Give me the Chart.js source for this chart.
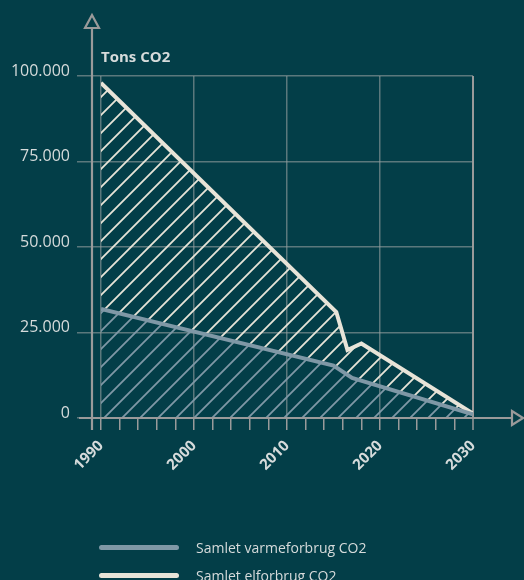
<!DOCTYPE html>
<html>
<head>
<meta charset="utf-8">
<script src="https://cdn.jsdelivr.net/npm/chart.js@4"></script>
<style>
  html, body { margin: 0; padding: 0; background: #033e48; }
  #wrap { position: relative; width: 524px; height: 580px; }
  #legend { position: absolute; left: 99px; top: 533px; font-family: "Open Sans", sans-serif; font-size: 14px; color: #d6dbdb; }
  #legend .item { display: flex; align-items: center; height: 28px; }
  #legend .swatch { width: 80px; height: 5px; border-radius: 3px; margin-right: 17px; }
</style>
</head>
<body>
<div id="wrap">
  <canvas id="co2"></canvas>
  <div id="legend"></div>
</div>
<script>
// data
var varmeYears = [1990, 2015, 2017, 2030];
var varmeValues = [31900, 15300, 11700, 1100];
var elYears = [1990, 2015.3, 2016.5, 2018, 2030];
var elValues = [98000, 31000, 19900, 21800, 1300];
var labels = ['Samlet varmeforbrug CO2', 'Samlet elforbrug CO2'];
var yTicks = [0, 25000, 50000, 75000, 100000];

var bg = '#033e48';
var cream = '#e8e4d8';
var blueGray = '#7f98a6';
var axisGray = '#9a9a9a';
var gridGray = 'rgba(150,160,160,0.6)';
var txt = '#d6dbdb';

function hatch(color){
  var s = 18;
  var c = document.createElement('canvas');
  c.width = s; c.height = s;
  var g = c.getContext('2d');
  g.strokeStyle = color;
  g.lineWidth = 1.8;
  g.beginPath();
  g.moveTo(-1, s + 1); g.lineTo(s + 1, -1);
  g.moveTo(-2, 2); g.lineTo(2, -2);
  g.moveTo(s - 2, s + 2); g.lineTo(s + 2, s - 2);
  g.stroke();
  return g.createPattern(c, 'repeat');
}

function pts(xs, ys){
  return xs.map(function(x, i){ return {x: x, y: ys[i]}; });
}

var axesPlugin = {
  id: 'axesPlugin',
  afterDraw: function(chart){
    var ctx = chart.ctx, a = chart.chartArea;
    var ax = a.left - 9;
    ctx.save();
    ctx.strokeStyle = axisGray;
    ctx.lineWidth = 2.2;
    // y axis with arrow
    ctx.beginPath();
    ctx.moveTo(ax, a.top - 48);
    ctx.lineTo(ax, a.bottom + 12);
    ctx.stroke();
    ctx.beginPath();
    ctx.moveTo(ax, a.top - 61);
    ctx.lineTo(ax - 7, a.top - 48);
    ctx.lineTo(ax + 7, a.top - 48);
    ctx.closePath();
    ctx.stroke();
    // x axis with arrow
    ctx.beginPath();
    ctx.moveTo(a.left - 22, a.bottom);
    ctx.lineTo(a.right + 39, a.bottom);
    ctx.stroke();
    ctx.beginPath();
    ctx.moveTo(a.right + 50, a.bottom);
    ctx.lineTo(a.right + 39, a.bottom - 7);
    ctx.lineTo(a.right + 39, a.bottom + 7);
    ctx.closePath();
    ctx.stroke();
    // title
    ctx.fillStyle = txt;
    ctx.font = 'bold 15px "Open Sans", sans-serif';
    ctx.textBaseline = 'alphabetic';
    ctx.fillText('Tons CO2', a.left, a.top - 14);
    ctx.restore();
  }
};

Chart.defaults.font.family = '"Open Sans", sans-serif';

var chart = new Chart(document.getElementById('co2'), {
  type: 'line',
  data: {
    datasets: [{
      label: labels[0],
      data: pts(varmeYears, varmeValues),
      borderColor: blueGray,
      borderWidth: 4,
      backgroundColor: hatch(blueGray),
      fill: 'origin',
      pointRadius: 0,
      tension: 0
    }, {
      label: labels[1],
      data: pts(elYears, elValues),
      borderColor: cream,
      borderWidth: 4,
      backgroundColor: hatch(cream),
      fill: '-1',
      pointRadius: 0,
      tension: 0
    }]
  },
  options: {
    responsive: true,
    maintainAspectRatio: false,
    animation: false,
    layout: { padding: { left: 0, right: 51, top: 76, bottom: 0 } },
    plugins: { legend: { display: false }, tooltip: { enabled: false } },
    scales: {
      x: {
        type: 'linear',
        min: 1990,
        max: 2030,
        afterFit: function(s){ s.height = 162; },
        border: { display: false },
        grid: {
          color: function(c){
            if (!c.tick) return 'transparent';
            if (c.tick.value === 2030) return axisGray;
            return c.tick.value % 10 === 0 ? gridGray : 'transparent';
          },
          lineWidth: function(c){ return c.tick && c.tick.value === 2030 ? 2 : 1.5; },
          tickColor: axisGray,
          tickWidth: 1.5,
          tickLength: 12
        },
        ticks: {
          stepSize: 2,
          autoSkip: false,
          minRotation: 45,
          maxRotation: 45,
          padding: 7,
          color: txt,
          font: { size: 15, weight: 'bold' },
          callback: function(v){ return v % 10 === 0 ? String(v) : ''; }
        }
      },
      y: {
        min: 0,
        max: 100000,
        afterFit: function(s){ s.width = 101; },
        afterBuildTicks: function(s){ s.ticks = yTicks.map(function(v){ return {value: v}; }); },
        border: { display: false },
        grid: { color: gridGray, lineWidth: 1.5, tickLength: 24 },
        ticks: {
          color: txt,
          padding: 7,
          labelOffset: -5,
          font: { size: 16 },
          callback: function(v){ return String(v).replace(/\B(?=(\d{3})+(?!\d))/g, '.'); }
        }
      }
    }
  },
  plugins: [axesPlugin]
});

// legend, one row per dataset
var leg = document.getElementById('legend');
chart.data.datasets.forEach(function(d){
  var row = document.createElement('div');
  row.className = 'item';
  var sw = document.createElement('div');
  sw.className = 'swatch';
  sw.style.background = d.borderColor;
  var t = document.createElement('span');
  t.textContent = d.label;
  row.appendChild(sw);
  row.appendChild(t);
  leg.appendChild(row);
});
</script>
</body>
</html>
